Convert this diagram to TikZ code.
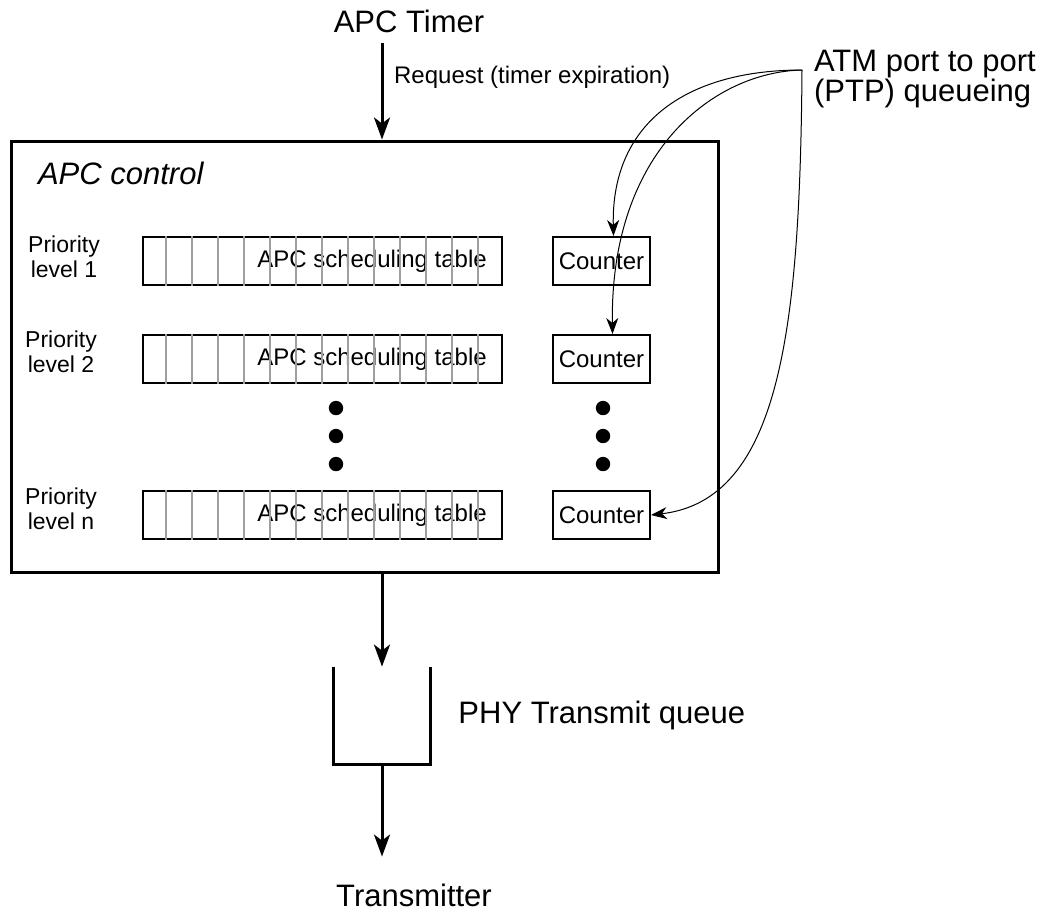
\documentclass[tikz,border=0pt]{standalone}
\usepackage{fontspec}
\setmainfont{Liberation Sans}
\usetikzlibrary{arrows.meta,positioning,calc}

\begin{document}
\begin{tikzpicture}[
  x=0.5pt, y=-0.5pt,
  every node/.style={font=\fontsize{12}{13}\selectfont},
  big/.style   ={font=\fontsize{15.5}{15}\selectfont},
  prio/.style  ={font=\fontsize{11.5}{12.5}\selectfont, align=center},
  tbl/.style   ={draw, line width=1pt,
                  minimum width=179.5pt, minimum height=24pt,
                  inner sep=0pt},
  ctr/.style   ={draw, line width=1pt,
                  minimum width=48.5pt, minimum height=24pt,
                  inner sep=0pt},
  cell/.style  ={gray!75, line width=0.7pt},
  arr/.style   ={-{Stealth[length=11pt, width=8pt, inset=3pt]}, line width=1.5pt},
  feed/.style  ={-{Stealth[length=8pt, width=6pt, inset=2.5pt]}, line width=0.5pt}
]
\useasboundingbox (0,0) rectangle (1049,911);

%% ---- APC control block ---------------------------------------------
\node[draw, line width=1.5pt,
      minimum width=353.5pt, minimum height=215.5pt] (apc) at (364.5,356.5) {};
\node[big, font=\fontsize{15.5}{15}\selectfont\itshape, anchor=west]
     (ctrl) at (31,173) {APC control};

% scheduling tables
\node[tbl]                       (tab1) at (322.5,261) {};
\node[tbl, below=24pt of tab1]   (tab2) {};
\node[tbl, below=53pt of tab2]   (tab3) {};

\node (lbl1) at ([xshift=24.75pt]tab1.center) {APC scheduling table};
\node (lbl2) at ([xshift=24.75pt]tab2.center) {APC scheduling table};
\node (lbl3) at ([xshift=24.75pt]tab3.center) {APC scheduling table};

\foreach \t in {tab1,tab2,tab3}
  \foreach \k in {0,...,12}
    \draw[cell] ([xshift={12pt+13pt*\k}]\t.north west)
             -- ([xshift={12pt+13pt*\k}]\t.south west);

% counters
\node[ctr, right=24.5pt of tab1] (ctr1) {Counter};
\node[ctr, right=24.5pt of tab2] (ctr2) {Counter};
\node[ctr, right=24.5pt of tab3] (ctr3) {Counter};

% priority levels
\node[prio] (prio1) at (64,257) {Priority\\level 1};
\node[prio] (prio2) at (61,352) {Priority\\level 2};
\node[prio] (prio3) at (61,509) {Priority\\level n};

% continuation dots
\foreach \y in {408,436,464} {
  \fill (336,\y) circle (3.6pt);
  \fill (603,\y) circle (3.6pt);
}

%% ---- timer input ----------------------------------------------------
\node[big] (timer) at (409,21) {APC Timer};
\draw[arr, shorten <=2pt] ([xshift=-13.5pt]timer.south)
     -- ([xshift=-13.5pt]timer.south |- apc.north)
     node[pos=0.38, right=2pt] (req) {Request (timer expiration)};

%% ---- PTP queueing feeds ---------------------------------------------
\node[big, align=left, anchor=west] (ptp) at (807,79)
     {ATM port to port\\(PTP) queueing};
\coordinate (ptpin) at ([xshift=-2.5pt,yshift=4.5pt]ptp.west);

\draw[feed] (ptpin) .. controls (690,70) and (611,120) .. ([xshift=6pt]ctr1.north);
\draw[feed] (ptpin) .. controls (715,72) and (610,150) .. ([xshift=5.5pt]ctr2.north);
\draw[feed] (ptpin) .. controls (800,330) and (780,500) .. (ctr3.east);

%% ---- output queue ---------------------------------------------------
\node[minimum width=48pt, minimum height=48.5pt, inner sep=0pt]
     (queue) at (382,715.5) {};
\draw[line width=1.5pt] (queue.north west) -- (queue.south west)
     -- (queue.south east) -- (queue.north east);
\node[big, right=10.5pt of queue] (phy) {PHY Transmit queue};

\node[big] (xmit) at (414,895) {Transmitter};

\draw[arr] (apc.south -| queue) -- (queue.north);
\draw[arr, shorten >=10pt] (queue.south) -- (queue.south |- xmit.north);

\end{tikzpicture}
\end{document}
